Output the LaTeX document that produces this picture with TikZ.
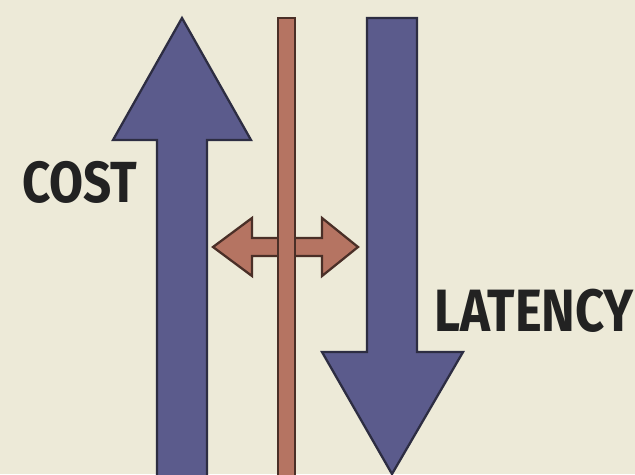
\documentclass[tikz,border=0pt]{standalone}
\usepackage{fontspec}
\usepackage{xcolor}
\usepackage{tikz}
\newfontfamily\labelfont[FakeStretch=0.85]{Fira Sans Bold}
\definecolor{paper}{HTML}{EDEAD8}
\definecolor{arrowBlue}{HTML}{5B5B8C}
\definecolor{edgeBlue}{HTML}{2D2D42}
\definecolor{barBrown}{HTML}{B57462}
\definecolor{edgeBrown}{HTML}{4A2F27}
\definecolor{ink}{HTML}{222222}

\begin{document}
\begin{tikzpicture}[x=0.02cm,y=-0.02cm,line width=1.3pt,line join=miter]
  \useasboundingbox (0,0) rectangle (635,474);
  \fill[paper] (0,0) rectangle (635,474);
  \clip (0,0) rectangle (635,474);
  % cost goes up
  \draw[edgeBlue,fill=arrowBlue] (157,480) -- (157,140) -- (113,140) -- (182,18)
    -- (251,140) -- (207,140) -- (207,480) -- cycle;
  % latency goes down
  \draw[edgeBlue,fill=arrowBlue] (367,18) -- (367,352) -- (322,352) -- (392,474)
    -- (463,352) -- (417,352) -- (417,18) -- cycle;
  % trade-off
  \draw[edgeBrown,fill=barBrown] (213,247) -- (252,218) -- (252,238) -- (322,238)
    -- (322,218) -- (358,247) -- (322,276) -- (322,256) -- (252,256) -- (252,276) -- cycle;
  \draw[edgeBrown,fill=barBrown] (278,18) rectangle (295,480);
  \node[ink,font=\labelfont\fontsize{33}{33}\selectfont] (cost) at (80,182) {COST};
  \node[ink,font=\labelfont\fontsize{34}{34}\selectfont] (latency) at (534,311) {LATENCY};
\end{tikzpicture}
\end{document}
